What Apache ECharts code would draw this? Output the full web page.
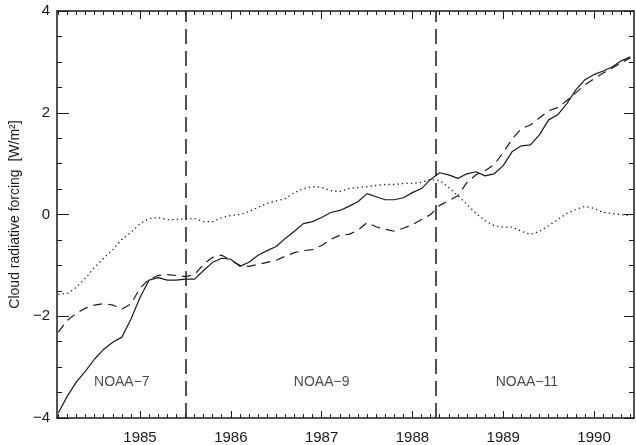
<!DOCTYPE html>
<html>
<head>
<meta charset="utf-8">
<script src="https://cdn.jsdelivr.net/npm/echarts@6/dist/echarts.min.js"></script>
<style>
  html, body { margin: 0; padding: 0; background: #fff; }
  #chart { width: 636px; height: 445px; }
</style>
</head>
<body>
<div id="chart"></div>
<script>
// time axis, decimal years (one value every 0.1 yr)
var years = [
  1984.1, 1984.2, 1984.3, 1984.4, 1984.5, 1984.6, 1984.7, 1984.8, 1984.9,
  1985.0, 1985.1, 1985.2, 1985.3, 1985.4, 1985.5, 1985.6, 1985.7, 1985.8, 1985.9,
  1986.0, 1986.1, 1986.2, 1986.3, 1986.4, 1986.5, 1986.6, 1986.7, 1986.8, 1986.9,
  1987.0, 1987.1, 1987.2, 1987.3, 1987.4, 1987.5, 1987.6, 1987.7, 1987.8, 1987.9,
  1988.0, 1988.1, 1988.2, 1988.3, 1988.4, 1988.5, 1988.6, 1988.7, 1988.8, 1988.9,
  1989.0, 1989.1, 1989.2, 1989.3, 1989.4, 1989.5, 1989.6, 1989.7, 1989.8, 1989.9,
  1990.0, 1990.1, 1990.2, 1990.3, 1990.4
];

// solid curve
var solidLine = [
  -3.90, -3.57, -3.29, -3.08, -2.84, -2.65, -2.51, -2.41, -2.06,
  -1.63, -1.29, -1.24, -1.29, -1.29, -1.27, -1.27, -1.10, -0.94, -0.86,
  -0.88, -1.02, -0.94, -0.80, -0.71, -0.63, -0.47, -0.33, -0.18, -0.14,
  -0.06, 0.04, 0.08, 0.16, 0.25, 0.41, 0.35, 0.29, 0.29, 0.33,
  0.43, 0.51, 0.69, 0.82, 0.78, 0.71, 0.80, 0.84, 0.76, 0.80,
  0.96, 1.24, 1.35, 1.37, 1.57, 1.86, 1.96, 2.18, 2.45, 2.65,
  2.75, 2.82, 2.90, 3.02, 3.10
];

// dashed curve
var dashedLine = [
  -2.31, -2.08, -1.94, -1.84, -1.78, -1.75, -1.78, -1.86, -1.76,
  -1.45, -1.27, -1.20, -1.18, -1.20, -1.22, -1.18, -0.98, -0.84, -0.80,
  -0.90, -1.00, -1.02, -0.98, -0.94, -0.90, -0.82, -0.75, -0.71, -0.69,
  -0.61, -0.49, -0.41, -0.39, -0.31, -0.16, -0.24, -0.29, -0.33, -0.27,
  -0.20, -0.10, 0.00, 0.18, 0.27, 0.37, 0.63, 0.78, 0.86, 0.98,
  1.22, 1.49, 1.69, 1.76, 1.90, 2.04, 2.10, 2.24, 2.39, 2.55,
  2.67, 2.78, 2.88, 2.98, 3.08
];

// dotted curve
var dottedLine = [
  -1.57, -1.55, -1.43, -1.25, -1.04, -0.86, -0.69, -0.49, -0.35,
  -0.18, -0.08, -0.06, -0.10, -0.10, -0.08, -0.08, -0.14, -0.14, -0.06,
  -0.02, 0.00, 0.06, 0.14, 0.22, 0.27, 0.31, 0.43, 0.51, 0.55,
  0.53, 0.47, 0.45, 0.51, 0.53, 0.55, 0.57, 0.59, 0.59, 0.61,
  0.61, 0.63, 0.69, 0.67, 0.53, 0.37, 0.20, 0.02, -0.12, -0.22,
  -0.25, -0.25, -0.33, -0.39, -0.33, -0.22, -0.10, 0.02, 0.10, 0.16,
  0.12, 0.04, 0.02, 0.00, -0.02
];

var yearTicks = [1985, 1986, 1987, 1988, 1989, 1990];
var satelliteChanges = [1985.5, 1988.26];
var satelliteNames = ['NOAA\u22127', 'NOAA\u22129', 'NOAA\u221211'];
var satelliteLabelX = [1984.8, 1987.0, 1989.26];
var satelliteLabelY = -3.3;

var xMin = 1984.086, xMax = 1990.44;
var ink = '#1a1a1a';
var font = '"Liberation Sans", Arial, Helvetica, sans-serif';

var minorTicks = [];
for (var t = 1984.1; t < xMax; t += 0.1) minorTicks.push(Math.round(t * 10) / 10);

function pairs(vals) {
  return years.map(function (x, i) { return [x, vals[i]]; });
}

function xAx(pos, ticks, len, withLine, withLabel) {
  return {
    type: 'value', position: pos, min: xMin, max: xMax,
    axisLine: { show: withLine, onZero: false, lineStyle: { color: ink, width: 1.5 } },
    axisTick: { show: true, inside: true, length: len, customValues: ticks, lineStyle: { color: ink, width: 1 } },
    axisLabel: withLabel ? {
      show: true, customValues: yearTicks, margin: 12, fontSize: 15, color: ink, fontFamily: font,
      formatter: function (v) { return String(Math.round(v)); }
    } : { show: false },
    splitLine: { show: false }
  };
}

function yAx(pos, withLabel) {
  var ax = {
    type: 'value', position: pos, min: -4, max: 4, interval: 2,
    axisLine: { show: true, onZero: false, lineStyle: { color: ink, width: 1.5 } },
    axisTick: { show: true, inside: true, length: withLabel ? 12 : 10, lineStyle: { color: ink, width: 1 } },
    minorTick: { show: true, splitNumber: 4, length: 5, lineStyle: { color: ink, width: 1 } },
    axisLabel: { show: withLabel, margin: 7, fontSize: 15, color: ink, fontFamily: font,
      formatter: function (v) { return v < 0 ? '\u2212' + Math.abs(v) : String(v); } },
    splitLine: { show: false }
  };
  if (withLabel) {
    ax.name = 'Cloud radiative forcing  [W/m\u00b2]';
    ax.nameLocation = 'middle';
    ax.nameGap = 34;
    ax.nameTextStyle = { fontSize: 14, color: ink, fontFamily: font };
  }
  return ax;
}

var chart = echarts.init(document.getElementById('chart'));
chart.setOption({
  animation: false,
  backgroundColor: '#fff',
  grid: { left: 57, right: 2, top: 11, bottom: 26 },
  xAxis: [
    xAx('bottom', yearTicks, 7, true, true),
    xAx('bottom', minorTicks, 4, false, false),
    xAx('top', yearTicks, 8, true, false),
    xAx('top', minorTicks, 4, false, false)
  ],
  yAxis: [yAx('left', true), yAx('right', false)],
  series: [
    {
      type: 'line', name: 'solid', data: pairs(solidLine), showSymbol: false,
      lineStyle: { color: ink, width: 1.2, type: 'solid' },
      markLine: {
        silent: true, symbol: 'none', label: { show: false },
        lineStyle: { color: ink, width: 1.5, type: [15, 7] },
        data: satelliteChanges.map(function (v) { return { xAxis: v }; })
      }
    },
    {
      type: 'line', name: 'dashed', data: pairs(dashedLine), showSymbol: false,
      lineStyle: { color: ink, width: 1.2, type: [9, 6] }
    },
    {
      type: 'line', name: 'dotted', data: pairs(dottedLine), showSymbol: false,
      lineStyle: { color: ink, width: 1.3, type: [1.3, 3.2] }
    },
    {
      type: 'scatter', symbolSize: 0, silent: true,
      data: satelliteNames.map(function (n, i) { return { name: n, value: [satelliteLabelX[i], satelliteLabelY] }; }),
      label: { show: true, position: 'inside', formatter: '{b}', fontSize: 14, color: ink, fontFamily: font }
    }
  ]
});
</script>
</body>
</html>
